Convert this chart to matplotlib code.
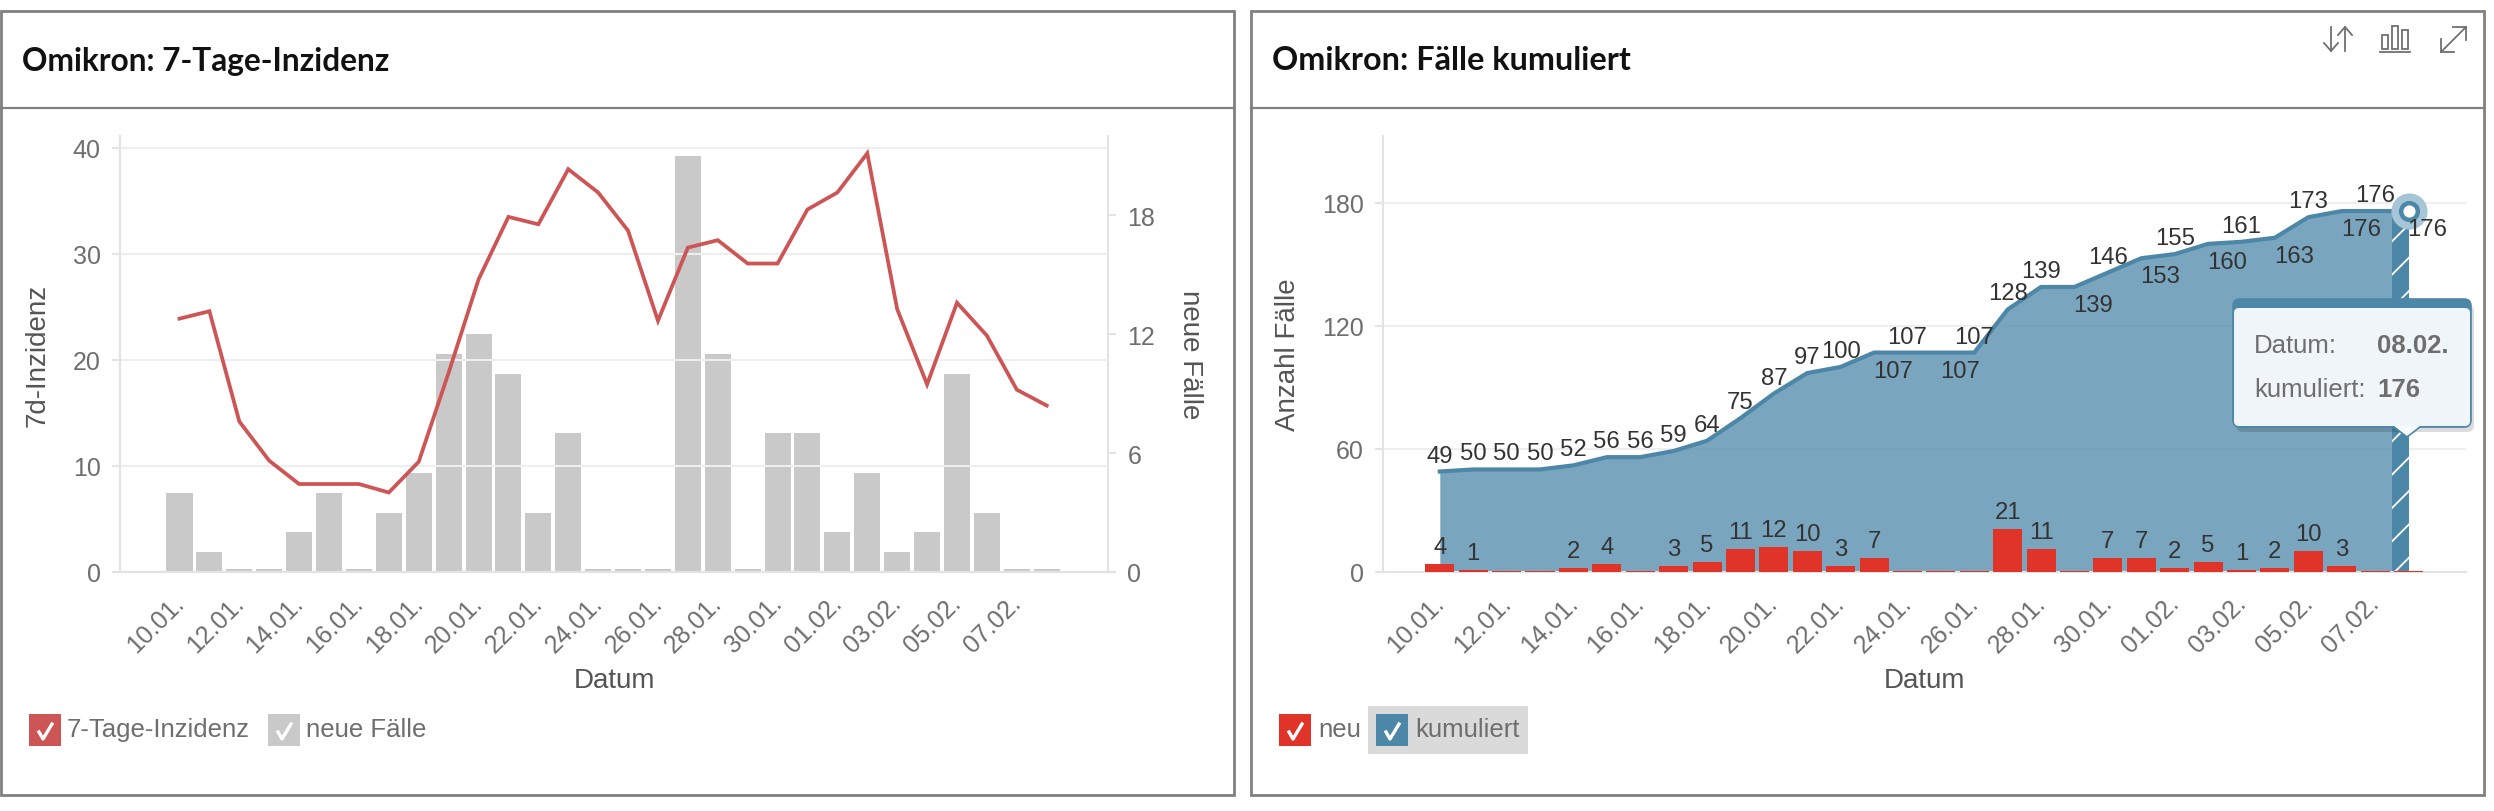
import matplotlib
matplotlib.use('Agg')
import matplotlib.pyplot as plt
from matplotlib.patches import Rectangle, FancyBboxPatch, Polygon
from matplotlib.transforms import ScaledTranslation

# Daten
x_labels = ['10.01.', '12.01.', '14.01.', '16.01.', '18.01.', '20.01.', '22.01.', '24.01.',
            '26.01.', '28.01.', '30.01.', '01.02.', '03.02.', '05.02.', '07.02.']
inzidenz = [23.9, 24.6, 14.2, 10.5, 8.3, 8.3, 8.3, 7.5, 10.4, 18.8, 27.6, 33.5, 32.8, 38.0, 35.8,
            32.2, 23.7, 30.6, 31.3, 29.1, 29.1, 34.2, 35.8, 39.5, 24.8, 17.7, 25.4, 22.3, 17.2, 15.7]
neu = [4, 1, 0, 0, 2, 4, 0, 3, 5, 11, 12, 10, 3, 7, 0, 0, 0, 21, 11, 0, 7, 7, 2, 5, 1, 2, 10, 3, 0, 0]
kumuliert = [49, 50, 50, 50, 52, 56, 56, 59, 64, 75, 87, 97, 100, 107, 107, 107, 107, 128, 139, 139,
             146, 153, 155, 160, 161, 163, 173, 176, 176, 176]
# Labels die unter der Linie stehen
labels_unten = [13, 15, 19, 21, 23, 25, 27, 29]

W, H = 2494, 812
RED = '#cd5555'
GREY_BAR = '#c9c9c9'
BAR_RED = '#e03428'
BLUE = '#4d87a8'
GRID = '#eeeeee'
AXIS = '#e3e3e3'
TICK_COL = '#6e6e6e'
LABEL_COL = '#555555'
FONT = ['Liberation Sans', 'DejaVu Sans']

plt.rcParams['font.family'] = FONT
plt.rcParams['hatch.linewidth'] = 1.3

fig = plt.figure(figsize=(W / 100, H / 100), dpi=100, facecolor='white')
days = list(range(len(neu)))


def axes_px(left, right, top, bottom):
    return fig.add_axes([left / W, 1 - bottom / H, (right - left) / W, (bottom - top) / H])


def style_axes(ax, xlim):
    ax.set_xlim(*xlim)
    ax.set_xticks(days[::2])
    ax.set_xticklabels(x_labels, rotation=45, ha='right', va='top', rotation_mode='anchor',
                       fontsize=18, color=TICK_COL)
    ax.tick_params(axis='x', length=0, pad=13)
    ax.tick_params(axis='y', length=6, width=1.5, color=AXIS, labelsize=18, labelcolor=TICK_COL, pad=8)
    # erst nach tick_params, das setzt die Transformation sonst zurueck
    shift = ScaledTranslation(-0.08, 0, fig.dpi_scale_trans)
    for lab in ax.get_xticklabels():
        lab.set_transform(lab.get_transform() + shift)
    for s in ax.spines.values():
        s.set_color(AXIS)
        s.set_linewidth(1.5)
    ax.spines['top'].set_visible(False)
    ax.set_xlabel('Datum', fontsize=20, color=LABEL_COL)
    ax.xaxis.set_label_coords(0.5, -0.248, transform=ax.transAxes)
    ax.xaxis.label.set_verticalalignment('center')


# linkes Diagramm
ax1 = axes_px(120, 1108, 137, 573)
style_axes(ax1, (-1.99, 31.05))
ax1.spines['right'].set_visible(False)
ax1.set_ylim(0, 41.13)
ax1.set_yticks([0, 10, 20, 30, 40])
ax1.grid(axis='y', color=GRID, linewidth=1.5)
ax1.set_axisbelow(True)
ax1.set_ylabel('7d-Inzidenz', fontsize=20, color=LABEL_COL, va='center')
ax1.yaxis.set_label_coords(-0.083, 0.5)

ax1b = ax1.twinx()
ax1b.set_ylim(0, 22)
ax1b.set_yticks([0, 6, 12, 18])
# leere Tage bekommen einen kleinen Strich wie im Original
ax1b.bar(days, [max(v, 0.15) for v in neu], width=0.87, color=GREY_BAR, linewidth=0)
ax1b.tick_params(axis='y', length=6, width=1.5, color=AXIS, labelsize=18, labelcolor=TICK_COL, pad=8)
for s in ax1b.spines.values():
    s.set_color(AXIS)
    s.set_linewidth(1.5)
ax1b.spines['top'].set_visible(False)
ax1b.set_ylabel('neue Fälle', fontsize=20, color=LABEL_COL, rotation=270, va='center')
ax1b.yaxis.set_label_coords(1.0825, 0.5)

ax1.set_zorder(ax1b.get_zorder() + 1)
ax1.patch.set_visible(False)
ax1.plot(days, inzidenz, color=RED, linewidth=2.7, solid_joinstyle='miter', zorder=5)

# rechtes Diagramm
ax2 = axes_px(1383, 2466, 137, 573)
style_axes(ax2, (-1.7, 30.72))
ax2.spines['right'].set_visible(False)
ax2.set_ylim(0, 212.6)
ax2.set_yticks([0, 60, 120, 180])
ax2.grid(axis='y', color=GRID, linewidth=1.5)
ax2.set_axisbelow(True)
ax2.set_ylabel('Anzahl Fälle', fontsize=20, color=LABEL_COL, va='center')
ax2.yaxis.set_label_coords(-0.088, 0.5)

ax2.fill_between(days, kumuliert, color=BLUE, alpha=0.75, linewidth=0, zorder=2)
ax2.fill_between([days[-1] - 0.5, days[-1]], [kumuliert[-1]] * 2, facecolor=BLUE, edgecolor='white',
                 hatch='/', linewidth=0, zorder=2.5)
ax2.plot(days, kumuliert, color=BLUE, linewidth=3, zorder=3)
ax2.bar(days, [max(v, 0.6) for v in neu], width=0.87, color=BAR_RED, linewidth=0, zorder=4)

for i, v in zip(days, kumuliert):
    if i in labels_unten:
        ax2.annotate(str(v), (i, v), xytext=(19, -18), textcoords='offset pixels', ha='center', va='center',
                     fontsize=17.2, color='#333333', zorder=7)
    else:
        ax2.annotate(str(v), (i, v), xytext=(0, 16), textcoords='offset pixels', ha='center', va='center',
                     fontsize=17.2, color='#333333', zorder=7)
for i, v in zip(days, neu):
    if v > 0:
        ax2.annotate(str(v), (i, v), xytext=(0, 17), textcoords='offset pixels', ha='center', va='center',
                     fontsize=17.2, color='#333333', zorder=7)

# aktiver Punkt
ax2.plot(days[-1], kumuliert[-1], 'o', ms=26, color='#a6c5d7', mew=0, zorder=5, clip_on=False)
ax2.plot(days[-1], kumuliert[-1], 'o', ms=12, mfc='white', mec=BLUE, mew=3.2, zorder=6, clip_on=False)

# Overlay in Pixelkoordinaten: Rahmen, Titel, Legende, Icons, Tooltip
ov = fig.add_axes([0, 0, 1, 1], zorder=20)
ov.set_xlim(0, W)
ov.set_ylim(H, 0)
ov.axis('off')
ov.patch.set_visible(False)

FRAME = '#808080'
for left, right in [(1, 1234), (1251, 2484)]:
    ov.add_patch(Rectangle((left, 12), right - left, 784, fill=False, edgecolor=FRAME, linewidth=2))
    ov.plot([left, right], [108.5, 108.5], color=FRAME, linewidth=1.6)

ov.text(22, 61, 'Omikron: 7-Tage-Inzidenz', family=['Lato', 'DejaVu Sans'], weight='bold', fontsize=22.8,
        color='#111111', va='center')
ov.text(1272, 61, 'Omikron: Fälle kumuliert', family=['Lato', 'DejaVu Sans'], weight='bold', fontsize=23.3,
        color='#111111', va='center')


def legend_item(x, y, color, text, text_x):
    ov.add_patch(Rectangle((x, y), 32, 32, facecolor=color, edgecolor='none'))
    ov.plot([x + 10, x + 14, x + 23], [y + 18, y + 25, y + 10], color='white', linewidth=2.4)
    ov.text(text_x, y + 15, text, fontsize=18.5, color=TICK_COL, va='center')


ov.add_patch(Rectangle((1368, 707), 160, 48, facecolor='#dadada', edgecolor='none'))
legend_item(29, 715, RED, '7-Tage-Inzidenz', 67)
legend_item(268, 715, GREY_BAR, 'neue Fälle', 306)
legend_item(1279, 715, BAR_RED, 'neu', 1318)
legend_item(1376, 715, BLUE, 'kumuliert', 1415)

# Icons oben rechts
ICON = '#707070'
lw = 1.3
ov.plot([2331, 2331], [28, 52], color=ICON, lw=lw)
ov.plot([2324, 2331, 2338], [44, 52, 44], color=ICON, lw=lw)
ov.plot([2345, 2345], [52, 28], color=ICON, lw=lw)
ov.plot([2338, 2345, 2352], [36, 28, 36], color=ICON, lw=lw)
ov.plot([2380, 2410], [53, 53], color=ICON, lw=lw)
for bx, bt in [(2382, 36), (2392, 27), (2402, 31)]:
    ov.add_patch(Rectangle((bx, bt), 6, 50 - bt, fill=False, edgecolor=ICON, linewidth=lw))
ov.plot([2441, 2466], [53, 28], color=ICON, lw=lw)
ov.plot([2453, 2466, 2466], [28, 28, 41], color=ICON, lw=lw)
ov.plot([2441, 2441, 2454], [40, 53, 53], color=ICON, lw=lw)

# Tooltip
ov.add_patch(FancyBboxPatch((2236, 306), 238, 127, boxstyle='round,pad=0,rounding_size=7',
                            facecolor='black', edgecolor='none', alpha=0.14))
ov.add_patch(FancyBboxPatch((2233, 300), 238, 128, boxstyle='round,pad=0,rounding_size=7',
                            facecolor=BLUE, edgecolor=BLUE, linewidth=1.2))
ov.add_patch(FancyBboxPatch((2234, 309), 236, 118, boxstyle='round,pad=0,rounding_size=5',
                            facecolor='#f7fafc', edgecolor='none', alpha=0.96))
ov.add_patch(Polygon([[2394, 427], [2407, 438], [2420, 427]], closed=True, facecolor='#f7fafc', edgecolor='none'))
ov.plot([2394, 2407, 2420], [428, 438, 428], color=BLUE, linewidth=1.2)
ov.text(2254, 346, 'Datum:', fontsize=18.5, color=TICK_COL, va='center')
ov.text(2377, 346, '08.02.', fontsize=18.5, color=TICK_COL, va='center', weight='bold')
ov.text(2254, 390, 'kumuliert:', fontsize=18.5, color=TICK_COL, va='center')
ov.text(2377, 390, '176', fontsize=18.5, color=TICK_COL, va='center', weight='bold')

fig.savefig('out.png', dpi=100)
